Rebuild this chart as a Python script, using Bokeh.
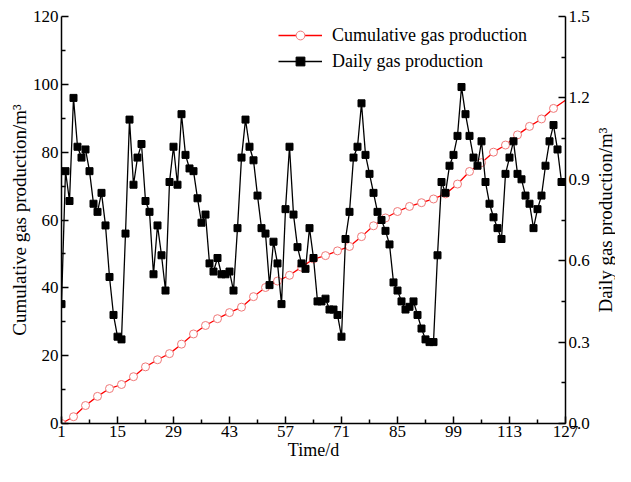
from bokeh.plotting import figure
from bokeh.layouts import row
from bokeh.models import (Range1d, LinearAxis, FixedTicker, Legend, LegendItem,
                          PrintfTickFormatter, Title)
from bokeh.embed import file_html
from bokeh.resources import INLINE

# ---------------- data ----------------
x_ticks = [1, 15, 29, 43, 57, 71, 85, 99, 113, 127]
left_ticks = [0, 20, 40, 60, 80, 100, 120]
right_ticks = [0.0, 0.3, 0.6, 0.9, 1.2, 1.5]

daily_days = list(range(1, 127))
daily_gas = [
    0.44, 0.93, 0.82, 1.20, 1.02, 0.98, 1.01, 0.93, 0.81, 0.78,
    0.85, 0.73, 0.54, 0.40, 0.32, 0.31, 0.70, 1.12, 0.88, 0.98,
    1.03, 0.82, 0.78, 0.55, 0.73, 0.62, 0.49, 0.89, 1.02, 0.88,
    1.14, 0.99, 0.94, 0.93, 0.83, 0.74, 0.77, 0.59, 0.56, 0.61,
    0.55, 0.55, 0.56, 0.49, 0.72, 0.98, 1.12, 1.02, 0.97, 0.84,
    0.72, 0.70, 0.51, 0.67, 0.59, 0.44, 0.79, 1.02, 0.77, 0.65,
    0.59, 0.57, 0.72, 0.61, 0.45, 0.45, 0.46, 0.42, 0.42, 0.40,
    0.32, 0.68, 0.78, 0.98, 1.02, 1.18, 0.99, 0.92, 0.85, 0.78,
    0.75, 0.71, 0.66, 0.52, 0.49, 0.45, 0.42, 0.43, 0.45, 0.40,
    0.35, 0.31, 0.30, 0.30, 0.62, 0.89, 0.85, 0.95, 0.99, 1.06,
    1.24, 1.14, 1.06, 0.98, 0.95, 1.04, 0.89, 0.81, 0.76, 0.72,
    0.68, 0.92, 0.98, 1.04, 0.92, 0.90, 0.84, 0.81, 0.72, 0.79,
    0.84, 0.95, 1.04, 1.10, 1.01, 0.89,
]

cum_days = list(range(1, 125, 3)) + [127]
cum_gas = [
    0.0, 2.0, 5.3, 8.0, 10.3, 11.5, 13.8, 16.7, 18.8, 20.6,
    23.4, 26.4, 28.9, 30.9, 32.7, 34.3, 37.4, 40.1, 42.0, 43.7,
    46.1, 48.5, 49.5, 50.9, 52.2, 55.1, 58.3, 60.6, 62.5, 64.0,
    65.1, 66.2, 67.7, 70.6, 74.3, 76.9, 80.0, 82.1, 85.1, 87.6,
    89.8, 92.9, 95.3,
]
cum_marker_days = cum_days[:-1]
cum_marker_gas = cum_gas[:-1]

FONT = "Liberation Serif"
TOP, BOTTOM = 16, 43

# ---------------- main figure ----------------
p = figure(width=592, height=466, output_backend="svg", toolbar_location=None,
           x_range=Range1d(1, 127), y_range=Range1d(0, 120),
           min_border_left=61, min_border_right=24,
           min_border_top=TOP, min_border_bottom=BOTTOM)
p.extra_y_ranges = {"right": Range1d(0, 1.5)}
p.grid.visible = False
p.outline_line_color = None
p.background_fill_color = "white"
p.border_fill_color = "white"


def style_axis(ax, label, ticks, minor):
    ax.ticker = FixedTicker(ticks=ticks, minor_ticks=minor)
    ax.axis_label = label
    ax.axis_label_text_font = FONT
    ax.axis_label_text_font_size = "19px"
    ax.axis_label_text_font_style = "normal"
    ax.axis_label_text_color = "black"
    ax.axis_label_standoff = 0
    ax.major_label_text_font = FONT
    ax.major_label_text_font_size = "17px"
    ax.major_label_text_color = "black"
    ax.major_label_standoff = 3
    ax.axis_line_color = "black"
    ax.axis_line_width = 1.5
    ax.major_tick_line_color = "black"
    ax.major_tick_line_width = 1.5
    ax.minor_tick_line_color = "black"
    ax.minor_tick_line_width = 1.5
    ax.major_tick_in = 7
    ax.major_tick_out = 0
    ax.minor_tick_in = 4
    ax.minor_tick_out = 0


minor_x = [t + 7 for t in x_ticks[:-1]]
minor_left = [t + 10 for t in left_ticks[:-1]]
minor_right = [round(t + 0.15, 2) for t in right_ticks[:-1]]

style_axis(p.xaxis[0], "Time/d", x_ticks, minor_x)
p.xaxis[0].axis_label_text_font_size = "18px"
p.xaxis[0].major_label_standoff = 2
style_axis(p.yaxis[0], "Cumulative gas production/m³", left_ticks, minor_left)

right_axis = LinearAxis(y_range_name="right")
style_axis(right_axis, None, right_ticks, minor_right)
right_axis.formatter = PrintfTickFormatter(format="%.1f")
p.add_layout(right_axis, "right")

# ---------------- glyphs ----------------
cum_line = p.line(cum_days, cum_gas, line_color="#FF0000", line_width=1.3)
cum_pts = p.scatter(cum_marker_days, cum_marker_gas, marker="circle", size=8,
                    line_color="#F07878", line_width=1.0, fill_color="white")

daily_line = p.line(daily_days, daily_gas, line_color="black", line_width=1.3,
                    y_range_name="right")
daily_pts = p.scatter(daily_days, daily_gas, marker="square", size=7,
                      line_color="black", fill_color="black",
                      y_range_name="right")

legend = Legend(items=[
    LegendItem(label="Cumulative gas production", renderers=[cum_line, cum_pts]),
    LegendItem(label="Daily gas production", renderers=[daily_line, daily_pts]),
], location=(217, 351))
legend.label_text_font = FONT
legend.label_text_font_size = "18px"
legend.label_text_color = "black"
legend.glyph_width = 44
legend.glyph_height = 22
legend.label_height = 22
legend.label_standoff = 10
legend.spacing = 4
legend.padding = 0
legend.margin = 0
legend.border_line_color = None
legend.background_fill_alpha = 0
p.add_layout(legend)

# ---------------- right-axis title (reads upward) ----------------
p2 = figure(width=23, height=466, output_backend="svg", toolbar_location=None,
            x_axis_location=None, y_axis_location=None,
            min_border_left=21, min_border_right=0,
            min_border_top=TOP, min_border_bottom=BOTTOM)
p2.grid.visible = False
p2.outline_line_color = None
p2.background_fill_color = "white"
p2.border_fill_color = "white"
p2.add_layout(Title(text="Daily gas production/m³", align="center",
                    text_font=FONT, text_font_size="19px",
                    text_font_style="normal", text_color="black",
                    standoff=0, offset=0), "left")

layout = row(p, p2, spacing=0)
open("out.html", "w").write(file_html(layout, INLINE))
